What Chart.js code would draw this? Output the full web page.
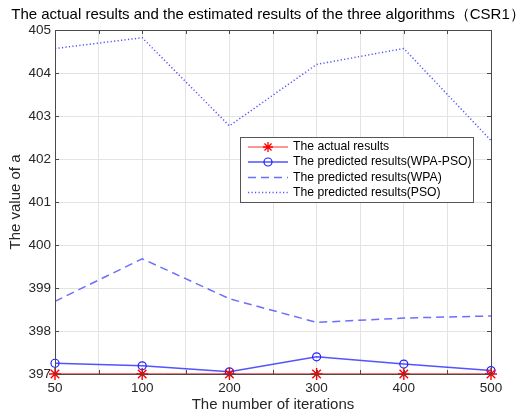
<!DOCTYPE html>
<html><head><meta charset="utf-8">
<script src="https://cdn.jsdelivr.net/npm/chart.js@4/dist/chart.umd.min.js"></script>
<style>html,body{margin:0;padding:0;background:#fff}#wrap{width:527px;height:414px}</style>
</head><body><div id="wrap"><canvas id="c" width="527" height="414"></canvas></div>
<script>
const iterations = [50, 100, 200, 300, 400, 500];
const actual = [397, 397, 397, 397, 397, 397];
const wpaPso = [397.25, 397.19, 397.05, 397.40, 397.23, 397.08];
const wpa = [398.69, 399.68, 398.75, 398.20, 398.30, 398.35];
const pso = [404.57, 404.82, 402.77, 404.20, 404.57, 402.43];
const seriesNames = ['The actual results','The predicted results(WPA-PSO)','The predicted results(WPA)','The predicted results(PSO)'];
const titleText = 'The actual results and the estimated results of the three algorithms（CSR1）';
const FONT = 'Liberation Sans, Arial, sans-serif';
const TXT = '#262626';
const toPts = arr => arr.map((v,i)=>({x:i,y:v}));

const boxPlugin = {
  id:'box',
  afterDraw(chart){
    const ctx=chart.ctx, a=chart.chartArea, xs=chart.scales.x, ys=chart.scales.y;
    ctx.save();
    ctx.strokeStyle='#4a4a4a'; ctx.lineWidth=1;
    ctx.strokeRect(Math.round(a.left)+0.5, Math.round(a.top)+0.5, Math.round(a.right-a.left), Math.round(a.bottom-a.top));
    ctx.beginPath();
    xs.ticks.forEach(t=>{const px=Math.round(xs.getPixelForValue(t.value))+0.5;
      ctx.moveTo(px,a.bottom); ctx.lineTo(px,a.bottom-4);
      ctx.moveTo(px,a.top); ctx.lineTo(px,a.top+4);});
    ys.ticks.forEach(t=>{const py=Math.round(ys.getPixelForValue(t.value))+0.5;
      ctx.moveTo(a.left,py); ctx.lineTo(a.left+4,py);
      ctx.moveTo(a.right,py); ctx.lineTo(a.right-4,py);});
    ctx.stroke();
    // title
    ctx.fillStyle='#000'; ctx.font='15px '+FONT; ctx.textAlign='center'; ctx.textBaseline='middle';
    ctx.fillText(titleText, 268, 15);
    // legend
    const lx=240, ly=137, lw=233, lh=65;
    ctx.fillStyle='#fff'; ctx.fillRect(lx,ly,lw,lh);
    ctx.strokeStyle='#555'; ctx.strokeRect(lx+0.5,ly+0.5,lw,lh);
    const rows=[147,162,177.5,192.5];
    const styles=[
      {c:'rgba(255,0,0,0.55)',dash:[],m:'star',mc:'#ff0000'},
      {c:'rgba(40,40,255,0.8)',dash:[],m:'circle',mc:'#2020ff'},
      {c:'rgba(60,60,255,0.75)',dash:[8,5]},
      {c:'rgba(40,40,255,0.8)',dash:[1.2,2.3]}];
    rows.forEach((y,i)=>{
      const s=styles[i];
      ctx.strokeStyle=s.c; ctx.lineWidth=1.5; ctx.setLineDash(s.dash);
      ctx.beginPath(); ctx.moveTo(248,y); ctx.lineTo(288,y); ctx.stroke(); ctx.setLineDash([]);
      if(s.m==='star'){ctx.strokeStyle=s.mc; ctx.lineWidth=1.3; ctx.beginPath();
        const r=5; for(let k=0;k<4;k++){const ang=k*Math.PI/4; ctx.moveTo(268-r*Math.cos(ang),y-r*Math.sin(ang)); ctx.lineTo(268+r*Math.cos(ang),y+r*Math.sin(ang));} ctx.stroke();}
      if(s.m==='circle'){ctx.strokeStyle=s.mc; ctx.lineWidth=1.2; ctx.beginPath(); ctx.arc(268,y,4,0,Math.PI*2); ctx.stroke();}
      ctx.fillStyle='#000'; ctx.font='12.2px '+FONT; ctx.textAlign='left'; ctx.textBaseline='middle';
      ctx.fillText(seriesNames[i], 293, y);
    });
    ctx.restore();
  }
};

new Chart(document.getElementById('c'),{
  type:'line',
  data:{datasets:[
    {label:seriesNames[0],data:toPts(actual),borderColor:'rgba(255,0,0,0.55)',borderWidth:2.2,pointStyle:'star',pointRadius:6,pointBorderColor:'#ff0000',pointBorderWidth:1.4,pointBackgroundColor:'#ff0000',tension:0,clip:false,order:1},
    {label:seriesNames[1],data:toPts(wpaPso),borderColor:'rgba(40,40,255,0.8)',borderWidth:1.5,pointStyle:'circle',pointRadius:4,pointBorderColor:'#2020ff',pointBorderWidth:1.2,pointBackgroundColor:'rgba(0,0,0,0)',tension:0,clip:false,order:2},
    {label:seriesNames[2],data:toPts(wpa),borderColor:'rgba(60,60,255,0.75)',borderWidth:1.5,borderDash:[8,5],pointRadius:0,tension:0,order:3},
    {label:seriesNames[3],data:toPts(pso),borderColor:'rgba(40,40,255,0.8)',borderWidth:1.5,borderDash:[1.2,2.3],pointRadius:0,tension:0,order:4}
  ]},
  options:{
    responsive:false,animation:false,
    layout:{padding:{top:30,right:36,left:0,bottom:0}},
    plugins:{legend:{display:false},title:{display:false},tooltip:{enabled:false}},
    scales:{
      x:{type:'linear',min:0,max:iterations.length-1,
        afterFit(s){s.height=40;},
        grid:{color:'#e3e3e3',drawTicks:false},border:{display:false},
        ticks:{stepSize:0.5,autoSkip:false,maxRotation:0,padding:6,color:TXT,font:{family:FONT,size:13.5},
          callback:v=>Number.isInteger(v)?String(iterations[v]):''},
        title:{display:true,text:'The number of iterations',color:TXT,font:{family:FONT,size:15},padding:{top:0,bottom:0}}},
      y:{min:397,max:405,
        afterFit(s){s.width=55;},
        grid:{color:'#e3e3e3',drawTicks:false},border:{display:false},
        ticks:{stepSize:1,padding:4,color:TXT,font:{family:FONT,size:13.5}},
        title:{display:true,text:'The value of a',color:TXT,font:{family:FONT,size:15},padding:{top:7,bottom:0}}}
    }
  },
  plugins:[boxPlugin]
});
</script></body></html>
